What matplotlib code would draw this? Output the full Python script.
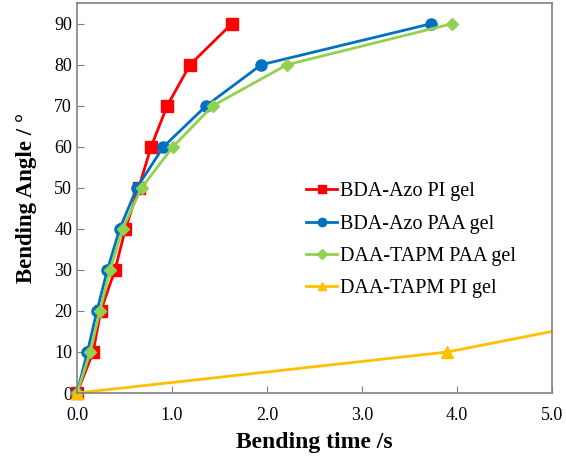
import matplotlib.pyplot as plt

plt.rcParams['font.family'] = ['Liberation Serif', 'DejaVu Serif']

# Bending time (s) vs bending angle (deg)
angle = [0, 10, 20, 30, 40, 50, 60, 70, 80, 90]
t_bda_pi = [0, 0.17, 0.25, 0.40, 0.51, 0.65, 0.78, 0.95, 1.19, 1.63]
t_bda_paa = [0, 0.11, 0.21, 0.32, 0.45, 0.63, 0.91, 1.36, 1.94, 3.73]
t_daa_paa = [0, 0.14, 0.24, 0.35, 0.48, 0.68, 1.01, 1.43, 2.21, 3.95]
t_daa_pi = [0, 3.9, 6.1]
angle_daa_pi = [0, 10, 20]

fig, ax = plt.subplots(figsize=(5.66, 4.57), dpi=100)
fig.subplots_adjust(left=0.136, right=0.975, top=0.993, bottom=0.14)

ax.plot(t_bda_pi, angle, color='#ff0000', marker='s', markersize=8, lw=2,
        clip_on=False, label='BDA-Azo PI gel')
ax.plot(t_bda_paa, angle, color='#0070c0', marker='o', markersize=8, lw=2,
        clip_on=False, label='BDA-Azo PAA gel')
ax.plot(t_daa_paa, angle, color='#92d050', marker='D', markersize=6.5, lw=2,
        clip_on=False, label='DAA-TAPM PAA gel')
ax.plot(t_daa_pi, angle_daa_pi, color='#ffc000', lw=2, label='DAA-TAPM PI gel',
        marker='^', markersize=8)
# origin marker for the yellow series is drawn unclipped
ax.plot(t_daa_pi[:1], angle_daa_pi[:1], color='#ffc000', marker='^', markersize=8,
        ls='none', clip_on=False)

ax.set_xlim(0, 5)
ax.set_ylim(0, 95)
ax.set_xticks([0, 1, 2, 3, 4, 5])
ax.set_xticklabels(['0.0', '1.0', '2.0', '3.0', '4.0', '5.0'])
ax.set_yticks(range(0, 100, 10))
ax.tick_params(direction='in', labelsize=13, length=5, color='#808080')
ax.tick_params(axis='x', pad=10)
for lab in ax.get_xticklabels() + ax.get_yticklabels():
    lab.set_fontfamily(['Liberation Serif', 'DejaVu Serif'])
for s in ax.spines.values():
    s.set_color('#808080')
    s.set_linewidth(1.2)

ax.set_xlabel('Bending time /s', fontsize=17, fontweight='bold', labelpad=6)
ax.set_ylabel('Bending Angle / °', fontsize=16.5, fontweight='bold', labelpad=12)

handles, labels = ax.get_legend_handles_labels()
ax.legend(handles[:4], labels[:4], loc='center left', bbox_to_anchor=(0.445, 0.392),
          frameon=False, fontsize=14.5, handlelength=1.5, handletextpad=0.15,
          labelspacing=0.66, markerscale=0.75)

plt.savefig('out.png')
